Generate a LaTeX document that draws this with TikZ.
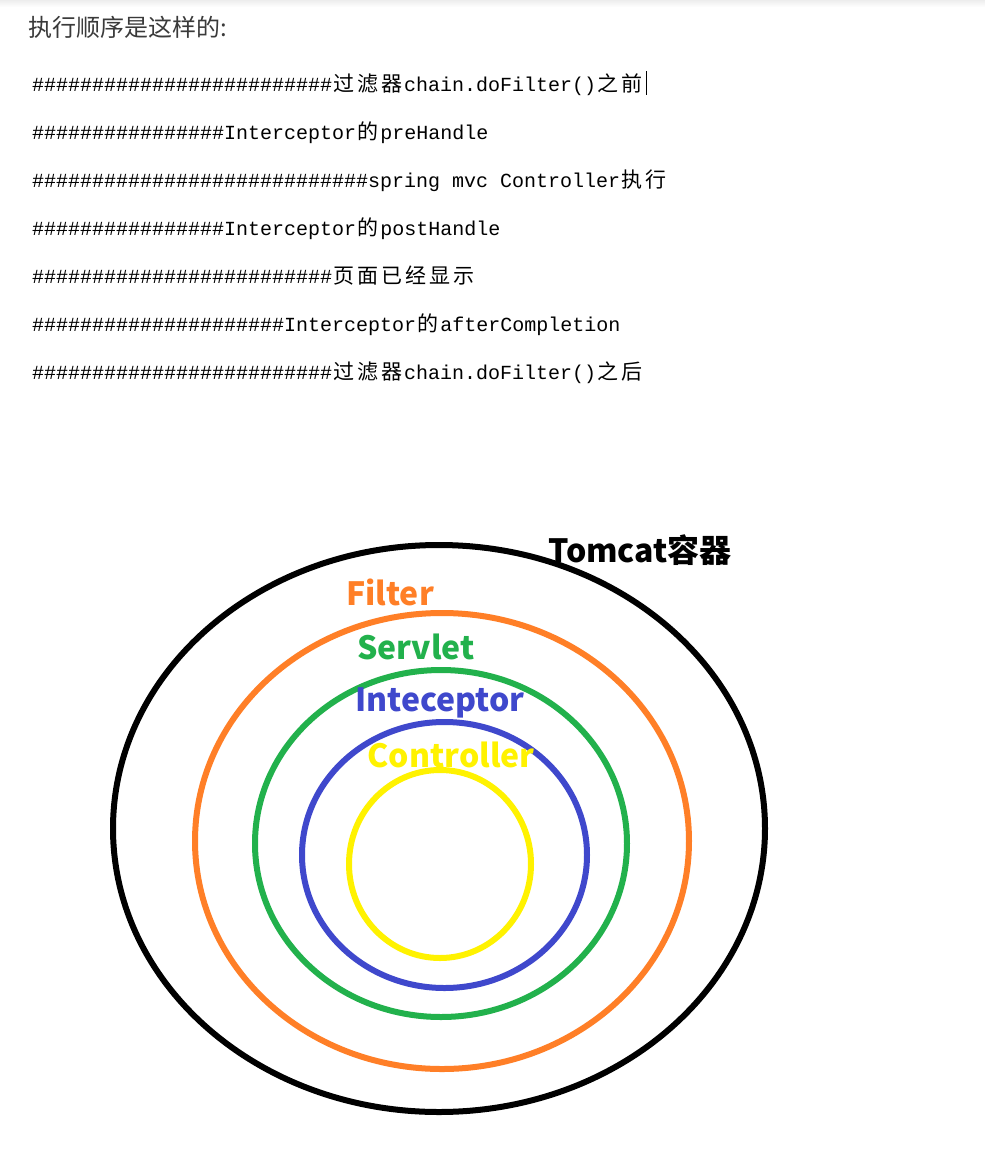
\documentclass[tikz,border=0pt]{standalone}
\usepackage{fontspec}
\newfontfamily\cjk{Noto Sans CJK SC}
\newfontfamily\monof{Liberation Mono}
\definecolor{pOrange}{HTML}{FF7F27}
\definecolor{pGreen}{HTML}{22B14C}
\definecolor{pBlue}{HTML}{3F48CC}
\definecolor{pYellow}{HTML}{FFF200}
\definecolor{headgray}{HTML}{3A3A3A}
\newcommand\hashes[1]{\ifnum#1>0 \#\expandafter\hashes\expandafter{\the\numexpr#1-1\relax}\fi}
\newcommand\C[1]{\makebox[24pt][c]{\cjk\fontsize{21pt}{21pt}\selectfont #1}}
\tikzset{
  codeline/.style={anchor=base west, inner sep=0pt, font=\monof\fontsize{20pt}{20pt}\selectfont, text=black},
  ring/.style={line width=6pt},
  ringlabel/.style={inner sep=0pt, font=\cjk\bfseries\fontsize{32pt}{32pt}\selectfont},
}
\begin{document}
\begin{tikzpicture}[x=1pt,y=-1pt]
\useasboundingbox (0,0) rectangle (985,1176);
\fill[white] (0,0) rectangle (985,1176);
\shade[top color=gray!14, bottom color=white] (0,0) rectangle (985,7);

\node[anchor=base west, inner sep=0pt, text=headgray, font=\cjk\fontsize{24pt}{24pt}\selectfont] (head) at (28,36) {执行顺序是这样的:};

\node[codeline] (l1) at (32,91) {\hashes{25}\C{过}\C{滤}\C{器}chain.doFilter()\C{之}\C{前}};
\coordinate (cursorTop) at ([xshift=2pt]l1.east |- 0,71);
\coordinate (cursorBot) at ([xshift=2pt]l1.east |- 0,95);
\draw[line width=1pt, black] (cursorTop) -- (cursorBot);
\node[codeline] (l2) at (32,139) {\hashes{16}Interceptor\C{的}preHandle};
\node[codeline] (l3) at (32,187) {\hashes{28}spring mvc Controller\C{执}\C{行}};
\node[codeline] (l4) at (32,235) {\hashes{16}Interceptor\C{的}postHandle};
\node[codeline] (l5) at (32,283) {\hashes{25}\C{页}\C{面}\C{已}\C{经}\C{显}\C{示}};
\node[codeline] (l6) at (32,331) {\hashes{21}Interceptor\C{的}afterCompletion};
\node[codeline] (l7) at (32,379) {\hashes{25}\C{过}\C{滤}\C{器}chain.doFilter()\C{之}\C{后}};

% rings
\draw[ring, black]   (439,828.5) ellipse [x radius=326, y radius=283.5];
\draw[ring, pOrange] (442,841)   ellipse [x radius=247, y radius=228];
\draw[ring, pGreen]  (441,843.5) ellipse [x radius=186, y radius=173.5];
\draw[ring, pBlue]   (444.5,855) ellipse [x radius=142.5, y radius=133];
\draw[ring, pYellow] (440,864)   ellipse [x radius=91, y radius=94];

% labels
\node[ringlabel, text=black]   (tomcat)     at (640,550) {Tomcat容器};
\node[ringlabel, text=pOrange] (filter)     at (390,592) {Filter};
\node[ringlabel, text=pGreen]  (servlet)    at (416,647) {Servlet};
\node[ringlabel, text=pBlue]   (interc)     at (440,703) {Inteceptor};
\node[ringlabel, text=pYellow] (controller) at (451,755) {Controller};
\end{tikzpicture}
\end{document}
